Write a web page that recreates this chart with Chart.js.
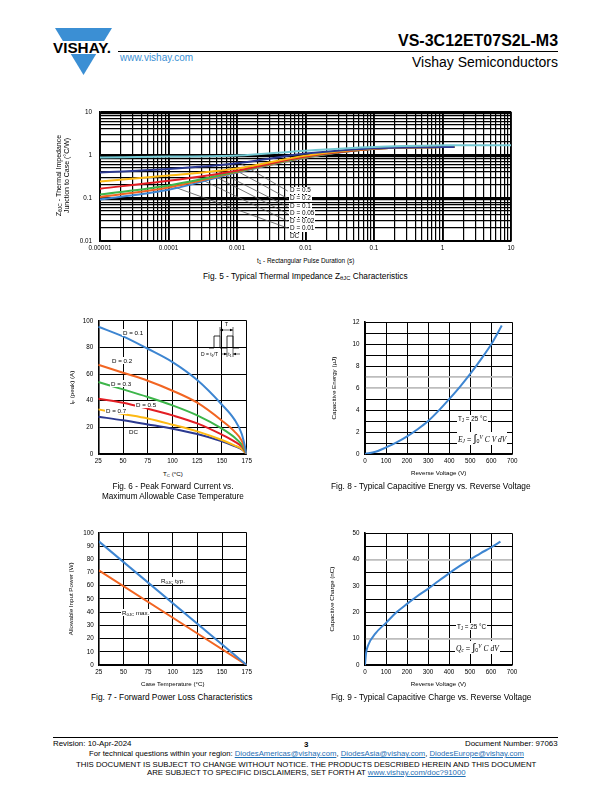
<!DOCTYPE html>
<html>
<head>
<meta charset="utf-8">
<script src="https://cdn.jsdelivr.net/npm/chart.js@4.4.1/dist/chart.umd.min.js"></script>
<style>
body { margin:0; width:612px; height:792px; position:relative; overflow:hidden; background:#fff;
  font-family:"Liberation Sans", Arial, sans-serif; color:#000; }
canvas { position:absolute; }
.t { position:absolute; white-space:nowrap; z-index:2; line-height:1.15; font-weight:normal; }
.box { background:#fff; padding:0 1px; }
sub { font-size:70%; vertical-align:-0.25em; line-height:0; }
sup { font-size:70%; vertical-align:0.5em; line-height:0; }
.f { font-family:"Liberation Serif", "Times New Roman", serif; font-style:italic; }
a { color:#1f6fb5; text-decoration:underline; }
</style>
</head>
<body>

<svg style="position:absolute;left:0;top:0" width="130" height="80">
  <polygon points="55,28 112,28 104.1,41 62.9,41" fill="#3b8fd4"/>
  <polygon points="70.8,54 96.2,54 83.5,75" fill="#3b8fd4"/>
  <text x="53" y="52.5" font-family="Liberation Sans, Arial" font-weight="bold" font-size="14" textLength="58" lengthAdjust="spacingAndGlyphs">VISHAY.</text>
</svg>
<div style="position:absolute;left:118px;top:51px;width:440px;height:1px;background:#000"></div>
<div style="position:absolute;left:53px;top:737px;width:505px;height:1px;background:#000"></div>

<svg style="position:absolute;left:195px;top:318px;z-index:2" width="52" height="42" viewBox="195 318 52 42">
  <polyline points="209,348 214,348 214,336 220,336 220,348 227,348 227,336 233,336 233,348 239,348" fill="none" stroke="#000" stroke-width="0.8"/>
  <line x1="220" y1="327" x2="220" y2="336" stroke="#000" stroke-width="0.6"/>
  <line x1="233" y1="327" x2="233" y2="357" stroke="#000" stroke-width="0.6"/>
  <line x1="227" y1="348" x2="227" y2="357" stroke="#000" stroke-width="0.6"/>
  <line x1="220" y1="330" x2="233" y2="330" stroke="#000" stroke-width="0.6"/>
  <polygon points="220,330 223,328.8 223,331.2" fill="#000"/>
  <polygon points="233,330 230,328.8 230,331.2" fill="#000"/>
  <text x="226.5" y="326" font-size="5.5" text-anchor="middle" font-family="Liberation Sans, Arial">T</text>
  <line x1="221" y1="354" x2="227" y2="354" stroke="#000" stroke-width="0.6"/>
  <polygon points="227,354 224,352.8 224,355.2" fill="#000"/>
  <line x1="233" y1="354" x2="240" y2="354" stroke="#000" stroke-width="0.6"/>
  <polygon points="233,354 236,352.8 236,355.2" fill="#000"/>
  <text x="230" y="356" font-size="5" text-anchor="middle" font-family="Liberation Sans, Arial">t<tspan font-size="3.5" dy="1">1</tspan></text>
  <text x="218" y="356" font-size="5" text-anchor="end" font-family="Liberation Sans, Arial">D = t<tspan font-size="3.5" dy="1">1</tspan><tspan dy="-1">/T</tspan></text>
</svg>

<canvas id="fig5"></canvas>
<canvas id="fig6"></canvas>
<canvas id="fig8"></canvas>
<canvas id="fig7"></canvas>
<canvas id="fig9"></canvas>

<script>
const FONT = '"Liberation Sans", Arial, sans-serif';
Chart.defaults.font.family = FONT;
Chart.defaults.color = '#000';
Chart.defaults.animation = false;

// ---- Fig. 5 - thermal impedance (log / log)
const pulseTime = [1e-5, 1e-4, 1e-3, 1e-2, 1e-1, 1, 1.5, 10];
const zthD05  = [0.87, 0.91, 0.96, 1.25, 1.52, 1.66, 1.67, 1.67];
const zthD02  = [0.39, 0.47, 0.64, 1.07, 1.42, 1.52, 1.53, null];
const zthD01  = [0.24, 0.33, 0.48, 0.96, 1.40, 1.52, 1.53, null];
const zthD005 = [0.164, 0.25, 0.43, 0.92, 1.39, 1.52, 1.53, null];
const zthD002 = [0.12, 0.195, 0.41, 0.89, 1.39, 1.52, 1.53, null];
const zthD001 = [0.105, 0.175, 0.40, 0.87, 1.38, 1.52, 1.53, null];
const zthDC   = [0.092, 0.155, 0.39, 0.86, 1.38, 1.52, 1.53, null];
const dutyLabels = ['D = 0.5', 'D = 0.2', 'D = 0.1', 'D = 0.05', 'D = 0.02', 'D = 0.01', 'DC'];
const leaderFromT = [0.00101, 0.00072, 0.000506, 0.000404, 0.000288, 0.000105];
const leaderFromZ = [0.70, 0.56, 0.43, 0.36, 0.278, 0.195];
const leaderToT = [0.0055, 0.0055, 0.0055, 0.0055, 0.0055, 0.0055];
const leaderToZ = [0.1445, 0.0969, 0.0622, 0.0431, 0.0288, 0.020];
const timeTicks = [1e-5, 1e-4, 1e-3, 1e-2, 1e-1, 1, 10];
const timeTickLabels = ['0.00001', '0.0001', '0.001', '0.01', '0.1', '1', '10'];
const zthTicks = [0.01, 0.1, 1, 10];
const zthTickLabels = ['0.01', '0.1', '1', '10'];

// ---- Fig. 6 - peak forward current
const caseTemp = [25, 50, 75, 100, 125, 150, 162.5, 170, 175];
const ifD01 = [95.5, 88.3, 79, 69, 55.5, 37, 26, 15, 0];
const ifD02 = [67, 61, 55, 47.5, 38.5, 25, 17, 10, 0];
const ifD03 = [54, 48.5, 42.8, 36.5, 29, 19, 12.5, 7, 0];
const ifD05 = [41.5, 38.5, 34, 29, 23, 14.5, 9.5, 5.5, 0];
const ifD07 = [33.5, 30, 26.6, 22, 17, 10.5, 6.5, 3.8, 0];
const ifDC  = [28, 25.3, 22.2, 19, 15, 9.5, 6, 3.5, 0];
const ifLabels = ['D = 0.1', 'D = 0.2', 'D = 0.3', 'D = 0.5', 'D = 0.7', 'DC'];

// ---- Fig. 7 - forward power loss
const powerTemp = [25, 175];
const powerTyp = [93.5, 0];
const powerMax = [71.5, 0];

// ---- Fig. 8 - capacitive energy
const voltE = [0, 50, 100, 150, 200, 250, 300, 350, 400, 450, 500, 550, 600, 650];
const capEnergy = [0, 0.2, 0.6, 1.05, 1.6, 2.25, 3.0, 3.95, 5.0, 6.1, 7.3, 8.6, 10.0, 11.7];

// ---- Fig. 9 - capacitive charge
const voltQ = [0, 5, 15, 50, 100, 150, 200, 250, 300, 350, 400, 450, 500, 550, 600, 645];
const capCharge = [0, 4.4, 7.5, 12, 16, 20, 23.2, 26.2, 28.9, 31.9, 34.8, 37.5, 40, 42.4, 44.6, 46.8];

const C = {
  blue: '#3d85d1', orange: '#f26522', green: '#3db54a', red: '#e31e24',
  yellow: '#fdb913', navy: '#2b3990', cyan: '#74c9d3'
};

function pts(xs, ys) {
  const out = [];
  xs.forEach((x, i) => { if (ys[i] !== null) out.push({x: x, y: ys[i]}); });
  return out;
}

function line(data, color, width) {
  return {
    data: data, borderColor: color, borderWidth: width || 2, pointRadius: 0,
    fill: false, cubicInterpolationMode: 'monotone'
  };
}

// canvas box + plot area (page coords) -> canvas setup and layout numbers
function frame(id, box, plot) {
  const c = document.getElementById(id);
  c.width = box.w; c.height = box.h;
  c.style.left = box.x + 'px'; c.style.top = box.y + 'px';
  c.style.width = box.w + 'px'; c.style.height = box.h + 'px';
  return {
    canvas: c,
    padding: {left: 0, top: plot.top - box.y, right: box.x + box.w - plot.right, bottom: 0},
    yWidth: plot.left - box.x,
    xHeight: box.y + box.h - plot.bottom
  };
}

function axis(o) {
  const a = {
    type: o.type || 'linear', min: o.min, max: o.max,
    afterFit: s => { if (s.isHorizontal()) s.height = o.size; else s.width = o.size; },
    ticks: {
      autoSkip: false, maxRotation: 0, minRotation: 0, color: '#000', padding: o.pad,
      font: {size: 6.3, family: FONT}
    },
    grid: {color: o.gridColor || '#000', lineWidth: o.gridWidth || 1, drawTicks: false},
    border: {color: '#000', width: 1.6},
    title: o.title ? {display: true, text: o.title, color: '#000', padding: 0, font: {size: 6.2, family: FONT}} : {display: false}
  };
  if (o.step) a.ticks.stepSize = o.step;
  if (o.label) a.ticks.callback = o.label;
  if (o.tickList) a.afterBuildTicks = s => { s.ticks = o.tickList.map(v => ({value: v})); };
  return a;
}

function baseOptions(f, x, y) {
  return {
    responsive: false, animation: false,
    layout: {padding: f.padding},
    plugins: {legend: {display: false}, tooltip: {enabled: false}, title: {display: false}},
    scales: {x: x, y: y}
  };
}

function decadeList(firstExp, lastExp) {
  const list = [];
  for (let e = firstExp; e < lastExp; e++) {
    for (let m = 1; m < 10; m++) list.push(Number((m * Math.pow(10, e)).toPrecision(3)));
  }
  list.push(Math.pow(10, lastExp));
  return list;
}

function isDecade(v) {
  const e = Math.log10(v);
  return Math.abs(e - Math.round(e)) < 1e-6;
}

function labelFrom(values, labels) {
  return v => {
    const i = values.findIndex(t => Math.abs(Math.log10(t) - Math.log10(v)) < 1e-6);
    return i < 0 ? '' : labels[i];
  };
}

// ---------------- Fig. 5
{
  const f = frame('fig5', {x: 60, y: 100, w: 470, h: 155}, {left: 100, top: 110, right: 511, bottom: 241});
  const lw = c => isDecade(c.tick.value) ? 1.9 : 1.2;
  const curves = [
    line(pts(pulseTime, zthD05), C.cyan),
    line(pts(pulseTime, zthD02), C.navy),
    line(pts(pulseTime, zthD01), C.yellow),
    line(pts(pulseTime, zthD005), C.red),
    line(pts(pulseTime, zthD002), C.green),
    line(pts(pulseTime, zthD001), C.orange),
    line(pts(pulseTime, zthDC), C.blue)
  ];
  const leaders = leaderFromT.map((t, i) => ({
    data: [{x: t, y: leaderFromZ[i]}, {x: leaderToT[i], y: leaderToZ[i]}],
    borderColor: '#555', borderWidth: 0.8, pointRadius: 0, fill: false
  }));
  new Chart(f.canvas, {
    type: 'line',
    data: {datasets: curves.concat(leaders)},
    options: baseOptions(f,
      axis({type: 'logarithmic', min: 1e-5, max: 10, size: f.xHeight, pad: 3, gridWidth: lw,
        tickList: decadeList(-5, 1), label: labelFrom(timeTicks, timeTickLabels)}),
      axis({type: 'logarithmic', min: 0.01, max: 10, size: f.yWidth, pad: 8, gridWidth: lw,
        tickList: decadeList(-2, 1), label: labelFrom(zthTicks, zthTickLabels)})
    )
  });
}

// ---------------- Fig. 6
{
  const f = frame('fig6', {x: 65, y: 312, w: 195, h: 154}, {left: 98.3, top: 320, right: 246.7, bottom: 454});
  new Chart(f.canvas, {
    type: 'line',
    data: {datasets: [
      line(pts(caseTemp, ifD01), C.blue),
      line(pts(caseTemp, ifD02), C.orange),
      line(pts(caseTemp, ifD03), C.green),
      line(pts(caseTemp, ifD05), C.red),
      line(pts(caseTemp, ifD07), C.yellow),
      line(pts(caseTemp, ifDC), C.navy)
    ]},
    options: baseOptions(f,
      axis({min: 25, max: 175, step: 25, size: f.xHeight, pad: 3}),
      axis({min: 0, max: 100, step: 20, size: f.yWidth, pad: 5})
    )
  });
}

// ---------------- Fig. 8
{
  const f = frame('fig8', {x: 331, y: 313, w: 209, h: 164}, {left: 365, top: 321, right: 512.3, bottom: 454});
  new Chart(f.canvas, {
    type: 'line',
    data: {datasets: [line(pts(voltE, capEnergy), C.blue)]},
    options: baseOptions(f,
      axis({min: 0, max: 700, step: 100, size: f.xHeight, pad: 3, title: 'Reverse Voltage (V)'}),
      axis({min: 0, max: 12, step: 1, size: f.yWidth, pad: 5.5, title: 'Capacitive Energy (µJ)',
        label: v => v % 2 === 0 ? v : '',
        gridColor: c => (c.tick.value === 6 || c.tick.value === 7) ? '#bdbdbd' : '#000',
        gridWidth: c => (c.tick.value === 6 || c.tick.value === 7) ? 1.8 : 1})
    )
  });
}

// ---------------- Fig. 7
{
  const f = frame('fig7', {x: 67.5, y: 524, w: 192.5, h: 164}, {left: 98.3, top: 532.3, right: 246.7, bottom: 665});
  new Chart(f.canvas, {
    type: 'line',
    data: {datasets: [
      line(pts(powerTemp, powerTyp), C.blue),
      line(pts(powerTemp, powerMax), C.orange)
    ]},
    options: baseOptions(f,
      axis({min: 25, max: 175, step: 25, size: f.xHeight, pad: 3, title: 'Case Temperature (°C)'}),
      axis({min: 0, max: 100, step: 10, size: f.yWidth, pad: 5, title: 'Allowable Input Power (W)'})
    )
  });
}

// ---------------- Fig. 9
{
  const f = frame('fig9', {x: 329, y: 524, w: 211, h: 164}, {left: 365, top: 532, right: 512, bottom: 665});
  new Chart(f.canvas, {
    type: 'line',
    data: {datasets: [line(pts(voltQ, capCharge), C.blue)]},
    options: baseOptions(f,
      axis({min: 0, max: 700, step: 100, size: f.xHeight, pad: 3, title: 'Reverse Voltage (V)'}),
      axis({min: 0, max: 50, step: 5, size: f.yWidth, pad: 5.5, title: 'Capacitive Charge (nC)',
        label: v => v % 10 === 0 ? v : '',
        gridColor: c => (c.tick.value === 10 || c.tick.value === 40) ? '#bdbdbd' : '#000',
        gridWidth: c => (c.tick.value === 10 || c.tick.value === 40) ? 1.8 : 1})
    )
  });
}

// ---------------- page text (snapped to whole pixels)
function put(html, x, y, o) {
  o = o || {};
  const d = document.createElement('div');
  d.className = 't' + (o.cls ? ' ' + o.cls : '');
  d.innerHTML = html;
  d.style.fontSize = (o.size || 8) + 'px';
  if (o.lh) d.style.lineHeight = o.lh + 'px';
  if (o.bold) d.style.fontWeight = 'bold';
  if (o.color) d.style.color = o.color;
  if (o.center) d.style.textAlign = 'center';
  document.body.appendChild(d);
  const w = d.offsetWidth, h = d.offsetHeight;
  if (o.rot) {
    d.style.left = Math.round(x - w / 2) + 'px';
    d.style.top = Math.round(y - h / 2) + 'px';
    d.style.transform = 'rotate(-90deg)';
  } else {
    const ax = o.align === 'right' ? 1 : o.align === 'center' ? 0.5 : 0;
    d.style.left = Math.round(x - w * ax) + 'px';
    d.style.top = Math.round(y - h / 2) + 'px';
  }
  return d;
}

// header
put('VS-3C12ET07S2L-M3', 558, 41, {size: 16, bold: true, align: 'right'});
put('Vishay Semiconductors', 558, 62, {size: 14, align: 'right'});
put('www.vishay.com', 120, 58, {size: 10, color: '#3b8fd4'});

// fig 5 text
put('Z<sub>θJC</sub> - Thermal Impedance<br>Junction to Case (°C/W)', 62.5, 175.5, {size: 7, lh: 7.5, rot: true, center: true});
put('t<sub>1</sub> - Rectangular Pulse Duration (s)', 305, 260, {size: 6.4, align: 'center'});
const dutyY = [190.7, 198.3, 206.7, 213.7, 221.3, 228.3, 236.3];
dutyLabels.forEach((s, i) => put(s, 289, dutyY[i], {size: 6.4, lh: 6.8, cls: 'box'}));
put('Fig. 5 - Typical Thermal Impedance Z<sub>θJC</sub> Characteristics', 305, 277, {size: 8.3, align: 'center'});

// fig 6 text
put('I<sub>F</sub> (peak) (A)', 72, 387, {size: 6.2, rot: true});
put('T<sub>C</sub> (°C)', 172.5, 473, {size: 6.2, align: 'center'});
const ifLabelX = [122, 110.5, 110, 134.5, 105, 127.5];
const ifLabelY = [332.3, 360.7, 383.3, 404.3, 410.7, 431.7];
ifLabels.forEach((s, i) => put(s, ifLabelX[i], ifLabelY[i], {size: 6.2, lh: 7, cls: 'box'}));
put('Fig. 6 - Peak Forward Current vs.<br>Maximum Allowable Case Temperature', 172.8, 492, {size: 8.2, lh: 10, align: 'center', center: true});

// fig 8 text
put('T<sub>J</sub> = 25 °C', 457, 418.5, {size: 6.3, cls: 'box'});
put('<span class="f">E<sub>J</sub></span> = <span style="font-size:11px">∫</span><sub>0</sub><sup class="f">V</sup> <span class="f">C V dV</span>', 457, 438, {size: 7.5, cls: 'box'});
put('Fig. 8 - Typical Capacitive Energy vs. Reverse Voltage', 431, 487, {size: 8.3, align: 'center'});

// fig 7 text
put('R<sub>θJC</sub> typ.', 159.5, 580.7, {size: 6.2, cls: 'box'});
put('R<sub>θJC</sub> max.', 121, 612.3, {size: 6.2, cls: 'box'});
put('Fig. 7 - Forward Power Loss Characteristics', 171, 698, {size: 8.3, align: 'center'});

// fig 9 text
put('T<sub>J</sub> = 25 °C', 456, 626, {size: 6.3, cls: 'box'});
put('<span class="f">Q<sub>c</sub></span> = <span style="font-size:11px">∫</span><sub>0</sub><sup class="f">V</sup> <span class="f">C dV</span>', 455, 647, {size: 7.5, cls: 'box'});
put('Fig. 9 - Typical Capacitive Charge vs. Reverse Voltage', 431, 698, {size: 8.3, align: 'center'});

// footer
put('Revision: 10-Apr-2024', 53, 743, {size: 7.9});
put('3', 306, 744, {size: 7.9, bold: true, align: 'center'});
put('Document Number: 97063', 558, 743, {size: 7.9, align: 'right'});
put('For technical questions within your region: <a>DiodesAmericas@vishay.com</a>, <a>DiodesAsia@vishay.com</a>, <a>DiodesEurope@vishay.com</a>', 306, 754, {size: 7.7, align: 'center'});
put('THIS DOCUMENT IS SUBJECT TO CHANGE WITHOUT NOTICE. THE PRODUCTS DESCRIBED HEREIN AND THIS DOCUMENT', 306, 765, {size: 7.8, align: 'center'});
put('ARE SUBJECT TO SPECIFIC DISCLAIMERS, SET FORTH AT <a>www.vishay.com/doc?91000</a>', 306, 773.5, {size: 7.8, align: 'center'});
</script>
</body>
</html>
